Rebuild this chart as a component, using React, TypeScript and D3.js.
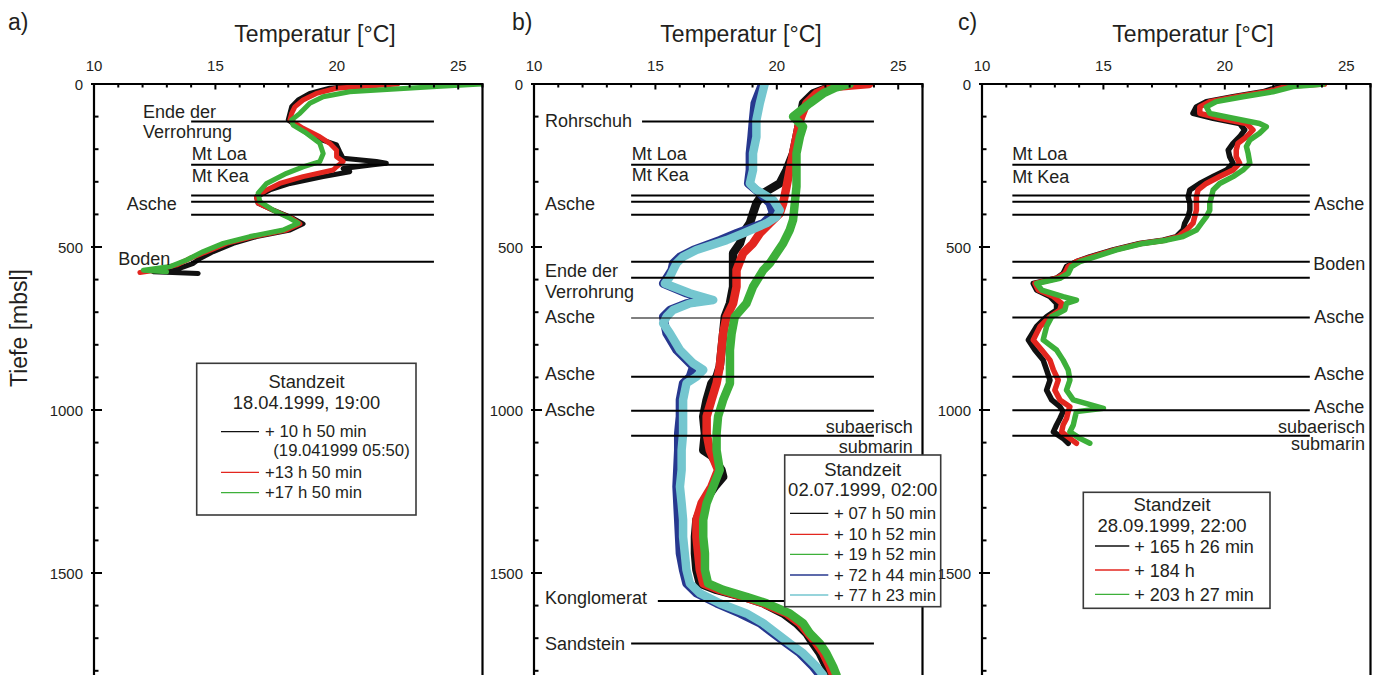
import React from 'react';
import * as d3 from 'd3';

type P = [number, number]; // [depth (m), temperature (°C)]

// ---------- Panel a (18.04.1999) ----------
const aBlack: P[] = [[0,21.9],[13,19.71],[29,18.89],[49,18.41],[70,18.14],[90,18.07],[110,18.0],[136,18.48],[162,19.02],[187,19.99],[208,20.12],[228,20.26],[238,21.63],[243,22.04],[248,21.49],[259,20.26],[269,20.53],[284,19.44],[305,18.07],[325,17.24],[346,16.69],[366,16.76],[387,17.38],[412,18.2],[429,18.61],[448,18.07],[468,16.69],[489,15.73],[514,14.91],[535,14.36],[550,14.09],[565,13.54],[576,12.44],[581,14.29]];
const aRed: P[] = [[0,22.5],[3,21.9],[13,19.99],[29,19.16],[49,18.61],[70,18.27],[90,18.14],[110,18.07],[136,18.61],[162,19.3],[182,19.71],[203,19.99],[223,19.99],[238,20.26],[254,19.99],[264,19.85],[284,18.61],[305,17.65],[325,17.11],[346,16.69],[366,16.76],[387,17.38],[412,18.14],[429,18.48],[448,17.93],[468,16.56],[489,15.46],[514,14.64],[535,13.95],[555,13.4],[571,12.58],[578,11.89]];
const aGreen: P[] = [[0,25.98],[8,24.12],[24,20.53],[39,19.44],[59,18.89],[90,18.48],[110,18.14],[126,18.2],[151,18.75],[182,19.3],[213,19.44],[238,19.3],[254,18.61],[274,17.93],[305,17.11],[335,16.76],[361,16.83],[387,17.38],[412,18.07],[427,18.41],[448,17.79],[468,16.42],[489,15.32],[514,14.5],[540,13.81],[560,13.13],[571,12.03],[576,12.99]];

// ---------- Panel b (02.07.1999) ----------
const bBlack: P[] = [[0,22.5],[29,21.49],[59,21.08],[110,20.95],[162,20.81],[213,20.67],[264,20.4],[305,20.12],[335,19.44],[366,19.16],[397,19.02],[427,18.89],[458,18.61],[489,18.48],[519,18.2],[571,18.2],[622,18.2],[673,18.07],[714,17.86],[765,17.79],[816,17.72],[867,17.65],[898,17.52],[918,17.31],[969,17.11],[1020,16.97],[1072,17.04],[1123,16.97],[1140,17.31],[1184,17.72],[1205,17.79],[1235,17.45],[1286,16.97],[1337,16.69],[1389,16.63],[1440,16.63],[1491,16.69],[1532,16.83],[1552,17.52],[1573,18.61],[1593,19.44],[1624,20.26],[1654,20.81],[1685,21.22],[1716,21.49],[1746,21.77],[1787,22.04],[1813,22.25]];
const bRed: P[] = [[0,23.8],[10,22.2],[29,21.63],[59,21.22],[110,20.95],[162,20.81],[213,20.67],[264,20.53],[315,20.4],[366,20.26],[397,20.12],[427,19.71],[458,19.3],[489,19.02],[519,18.61],[571,18.34],[622,18.34],[673,18.2],[714,17.93],[765,17.79],[816,17.72],[867,17.65],[918,17.52],[969,17.31],[1020,17.11],[1072,17.11],[1123,17.24],[1184,17.58],[1235,17.31],[1286,16.9],[1337,16.69],[1389,16.69],[1440,16.76],[1491,16.83],[1532,16.97],[1552,17.65],[1573,18.61],[1593,19.44],[1624,20.4],[1654,20.95],[1685,21.29],[1716,21.63],[1746,21.91],[1787,22.18],[1813,22.32]];
const bGreen: P[] = [[0,23.0],[10,22.46],[29,21.91],[59,21.36],[100,20.67],[131,21.08],[162,20.95],[213,20.81],[264,20.81],[315,20.81],[366,20.74],[417,20.67],[448,20.53],[489,20.26],[519,19.99],[550,19.71],[571,19.44],[622,19.02],[673,18.75],[714,18.27],[765,18.14],[816,18.07],[867,18.07],[918,18.07],[969,17.79],[1020,17.58],[1072,17.52],[1123,17.52],[1184,17.65],[1235,17.38],[1286,17.11],[1337,16.97],[1389,16.97],[1440,17.04],[1491,17.04],[1532,17.17],[1552,17.79],[1573,18.75],[1593,19.58],[1624,20.53],[1654,21.08],[1685,21.36],[1716,21.77],[1746,22.04],[1787,22.32],[1813,22.46]];
const bNavy: P[] = [[0,19.4],[59,19.09],[110,19.02],[162,18.96],[213,18.89],[264,18.89],[305,18.82],[335,19.3],[366,19.71],[397,19.85],[427,19.44],[458,18.34],[479,17.65],[509,16.56],[530,16.01],[550,15.73],[571,15.67],[612,15.32],[642,16.28],[663,17.11],[673,16.28],[693,15.6],[714,15.32],[765,15.46],[816,15.87],[867,16.56],[898,16.42],[918,16.14],[969,16.01],[1020,16.01],[1072,15.94],[1123,15.94],[1235,15.87],[1337,15.94],[1440,16.01],[1491,16.14],[1532,16.28],[1562,16.69],[1593,17.52],[1624,18.48],[1654,19.3],[1685,19.85],[1716,20.4],[1746,20.95],[1787,21.49],[1813,21.77]];
const bCyan: P[] = [[0,19.5],[59,19.3],[110,19.16],[162,19.16],[213,19.02],[264,19.02],[305,18.89],[325,19.16],[356,19.85],[387,20.12],[407,19.99],[427,19.58],[458,18.61],[479,17.93],[509,16.69],[530,16.14],[550,15.87],[571,15.73],[591,15.6],[612,15.39],[622,15.73],[642,16.42],[663,17.38],[673,16.42],[693,15.73],[714,15.46],[734,15.32],[765,15.6],[816,16.01],[857,16.56],[877,16.97],[898,16.69],[918,16.28],[969,16.14],[1020,16.14],[1072,16.14],[1123,16.08],[1184,16.08],[1235,16.01],[1286,16.08],[1337,16.14],[1389,16.14],[1440,16.21],[1491,16.28],[1532,16.42],[1562,16.83],[1593,17.65],[1624,18.75],[1654,19.44],[1685,19.99],[1716,20.53],[1746,21.08],[1787,21.63],[1813,21.91]];

// ---------- Panel c (28.09.1999) ----------
const cBlack: P[] = [[0,23.6],[8,22.26],[24,21.57],[39,20.34],[54,19.24],[70,18.83],[90,18.69],[105,19.52],[121,20.61],[141,20.82],[162,20.61],[182,20.34],[203,20.14],[223,20.2],[243,20.34],[264,20.07],[284,19.52],[305,18.97],[325,18.56],[346,18.49],[366,18.56],[387,18.56],[407,18.49],[427,18.35],[448,18.28],[468,18.01],[479,17.46],[489,16.5],[509,15.4],[530,14.44],[545,13.89],[560,13.48],[581,13.34],[596,13.07],[612,12.11],[632,12.25],[652,12.8],[673,13.07],[693,13.07],[714,12.66],[744,12.25],[785,11.91],[816,12.18],[847,12.52],[877,12.66],[908,12.8],[939,12.66],[969,12.87],[990,13.21],[1005,13.34],[1026,13.21],[1046,13.07],[1067,12.94],[1087,13.34],[1102,13.55]];
const cRed: P[] = [[0,24.1],[3,23.36],[8,22.53],[24,21.71],[39,20.47],[54,19.38],[70,18.97],[90,18.97],[105,19.79],[121,20.89],[141,21.16],[162,20.89],[182,20.54],[203,20.47],[223,20.47],[243,20.61],[264,20.34],[284,19.79],[305,19.24],[325,18.9],[346,18.83],[366,18.83],[387,18.83],[407,18.76],[427,18.69],[448,18.42],[468,18.08],[479,17.53],[489,16.57],[509,15.47],[530,14.51],[545,13.89],[560,13.55],[581,13.41],[596,13.07],[612,12.18],[632,12.32],[652,12.94],[673,13.28],[693,13.21],[714,12.8],[744,12.39],[785,12.11],[816,12.46],[847,12.8],[877,12.94],[908,13.14],[939,13.0],[969,13.21],[990,13.62],[1005,13.55],[1026,13.48],[1046,13.34],[1067,13.28],[1087,13.62],[1102,13.89]];
const cGreen: P[] = [[0,24.05],[3,23.63],[8,22.81],[24,21.98],[39,20.75],[54,19.65],[70,19.24],[90,19.38],[105,20.34],[121,21.43],[131,21.71],[151,21.43],[172,21.03],[192,20.89],[213,20.96],[243,21.03],[264,20.75],[284,20.34],[305,19.79],[325,19.52],[346,19.45],[366,19.38],[387,19.38],[407,19.24],[427,19.04],[448,18.83],[468,18.28],[479,17.6],[489,16.64],[509,15.54],[530,14.65],[545,14.03],[560,13.69],[581,13.55],[596,13.21],[612,12.25],[632,12.46],[652,13.34],[663,13.89],[673,13.48],[693,13.41],[714,12.87],[744,12.66],[785,12.52],[816,13.07],[847,13.34],[877,13.55],[908,13.62],[939,13.48],[969,13.76],[995,15.0],[1005,13.89],[1026,13.82],[1046,13.76],[1067,13.62],[1087,14.03],[1102,14.44]];

// ---------- axes ----------
const xTicks = [10, 15, 20, 25];
const yTicks = [0, 500, 1000, 1500];
const xTitle = 'Temperatur [°C]';
const yTitle = 'Tiefe [mbsl]';

// ---------- horizon lines: [depth, tStart, tEnd] ----------
const aHorizons: [number, number, number][] = [[115,14,24],[248,14,24],[342,14,24],[361,14,24],[401,14,24],[545,14,24]];
const bHorizons: [number, number, number][] = [[115,14.45,24],[248,14,24],[342,14,24],[361,14,24],[401,14,24],[545,14,24],[594,14,24],[898,14,24],[1002,14,24],[1079,14,24],[1586,15.1,24],[1716,14,24]];
const bThinHorizons: [number, number, number][] = [[718,14,24]];
const cHorizons: [number, number, number][] = [[248,11.25,23.5],[342,11.25,23.5],[361,11.25,23.5],[401,11.25,23.5],[545,11.25,23.5],[594,11.25,23.5],[716,11.25,23.5],[898,11.25,23.5],[1001,11.25,23.5],[1079,11.25,23.5]];

// ---------- legends ----------
const aLegendHead = ['Standzeit', '18.04.1999, 19:00'];
const aLegendItems = ['+ 10 h 50 min', '+13 h 50 min', '+17 h 50 min'];
const aLegendNote = '(19.041999 05:50)';
const bLegendHead = ['Standzeit', '02.07.1999, 02:00'];
const bLegendItems = ['+ 07 h 50 min', '+ 10 h 52 min', '+ 19 h 52 min', '+ 72 h 44 min', '+ 77 h 23 min'];
const cLegendHead = ['Standzeit', '28.09.1999, 22:00'];
const cLegendItems = ['+ 165 h 26 min', '+ 184 h', '+ 203 h 27 min'];

const BLACK = '#111111';
const RED = '#e3261f';
const GREEN = '#3db03a';
const NAVY = '#27388f';
const CYAN = '#74c6cf';

const FONT = '"Liberation Sans", Arial, Helvetica, sans-serif';
const TEXT = '#231f20';
const TOP = 84;
const PX_PER_M = 0.326;
const PLOT_W = 388.5;
const DMAX = 1860;

type Label = { t: string; x: number; y: number; end?: boolean };
type Legend = {
  box: [number, number, number, number];
  headX: number; headY: [number, number]; headSize: number;
  lineX: [number, number]; textX: number; rows: number[]; dy: number; size: number;
  items: string[]; colors: string[]; note?: { t: string; x: number; y: number };
};
type PanelCfg = {
  id: string; left: number; letter: string; letterX: number; titleX: number; sw: number;
  series: [P[], string][]; horizons: [number, number, number][]; thin?: [number, number, number][];
  labels: Label[]; legend: Legend; head: string[];
};

const panels: PanelCfg[] = [
  {
    id: 'a', left: 94, letter: 'a)', letterX: 8, titleX: 315, sw: 5,
    series: [[aBlack, BLACK], [aRed, RED], [aGreen, GREEN]],
    horizons: aHorizons,
    labels: [
      { t: 'Ende der', x: 143, y: 117.7 }, { t: 'Verrohrung', x: 143, y: 138.3 },
      { t: 'Mt Loa', x: 191.7, y: 160 }, { t: 'Mt Kea', x: 191.7, y: 181.7 },
      { t: 'Asche', x: 126.7, y: 210 }, { t: 'Boden', x: 118.3, y: 265 },
    ],
    head: aLegendHead,
    legend: {
      box: [196.7, 363.3, 416, 515], headX: 306.5, headY: [388, 408.5], headSize: 18.3,
      lineX: [221, 259], textX: 265, rows: [431.7, 472.3, 492.7], dy: 5.5, size: 16.7,
      items: aLegendItems, colors: [BLACK, RED, GREEN],
      note: { t: aLegendNote, x: 273.3, y: 456 },
    },
  },
  {
    id: 'b', left: 534, letter: 'b)', letterX: 512, titleX: 741, sw: 8.5,
    series: [[bBlack, BLACK], [bRed, RED], [bGreen, GREEN], [bNavy, NAVY], [bCyan, CYAN]],
    horizons: bHorizons, thin: bThinHorizons,
    labels: [
      { t: 'Rohrschuh', x: 545, y: 126.7 }, { t: 'Mt Loa', x: 631.7, y: 160 }, { t: 'Mt Kea', x: 631.7, y: 181 },
      { t: 'Asche', x: 545, y: 210 }, { t: 'Ende der', x: 545, y: 277 }, { t: 'Verrohrung', x: 545, y: 297.5 },
      { t: 'Asche', x: 545, y: 323 }, { t: 'Asche', x: 545, y: 380 }, { t: 'Asche', x: 545, y: 415.5 },
      { t: 'subaerisch', x: 912.7, y: 432.7, end: true }, { t: 'submarin', x: 912.7, y: 453, end: true },
      { t: 'Konglomerat', x: 545, y: 603.5 }, { t: 'Sandstein', x: 545, y: 650 },
    ],
    head: bLegendHead,
    legend: {
      box: [784.7, 455, 940.7, 606.7], headX: 862.7, headY: [476, 496.3], headSize: 18.5,
      lineX: [790, 828.3], textX: 834, rows: [513.3, 534.3, 554.3, 575, 595], dy: 5.7, size: 16.8,
      items: bLegendItems, colors: [BLACK, RED, GREEN, NAVY, CYAN],
    },
  },
  {
    id: 'c', left: 982, letter: 'c)', letterX: 958, titleX: 1193, sw: 5.5,
    series: [[cBlack, BLACK], [cRed, RED], [cGreen, GREEN]],
    horizons: cHorizons,
    labels: [
      { t: 'Mt Loa', x: 1012.3, y: 160 }, { t: 'Mt Kea', x: 1012.3, y: 182.5 },
      { t: 'Asche', x: 1314.3, y: 210 }, { t: 'Boden', x: 1313.3, y: 270 },
      { t: 'Asche', x: 1314.3, y: 323.3 }, { t: 'Asche', x: 1314.3, y: 380 }, { t: 'Asche', x: 1314.3, y: 412.7 },
      { t: 'subaerisch', x: 1365, y: 432.7, end: true }, { t: 'submarin', x: 1365, y: 450, end: true },
    ],
    head: cLegendHead,
    legend: {
      box: [1083.3, 492.3, 1270, 608.3], headX: 1172, headY: [510.5, 531.5], headSize: 18.5,
      lineX: [1095, 1129.3], textX: 1134.3, rows: [546, 570, 594.3], dy: 6.5, size: 18,
      items: cLegendItems, colors: [BLACK, RED, GREEN],
    },
  },
];

function Panel({ cfg }: { cfg: PanelCfg }) {
  const x = d3.scaleLinear().domain([10, 26]).range([cfg.left, cfg.left + PLOT_W]);
  const y = d3.scaleLinear().domain([0, DMAX]).range([TOP, TOP + DMAX * PX_PER_M]);
  const line = d3.line<P>().x((d) => x(d[1])).y((d) => y(d[0]));
  const right = x(26);
  const bottom = y(DMAX);
  const clipId = `clip-${cfg.id}`;
  const xMinor = d3.range(10, 27, 1).filter((v) => v % 5 !== 0);
  const yMinor = d3.range(0, DMAX, 100).filter((v) => v % 500 !== 0);
  const lg = cfg.legend;
  return (
    <g>
      <defs>
        <clipPath id={clipId}>
          <rect x={x(10)} y={TOP} width={right - x(10)} height={bottom - TOP} />
        </clipPath>
      </defs>
      <text x={cfg.letterX} y={30} fontSize={23} fill={TEXT}>{cfg.letter}</text>
      <text x={cfg.titleX} y={42} fontSize={23} textAnchor="middle" fill={TEXT}>{xTitle}</text>
      {xTicks.map((t) => (
        <text key={`xt${t}`} x={x(t)} y={71} fontSize={15} textAnchor="middle" fill={TEXT}>{t}</text>
      ))}
      {yTicks.map((t) => (
        <text key={`yt${t}`} x={x(10) - 11} y={y(t) + 5.5} fontSize={15} textAnchor="end" fill={TEXT}>{t}</text>
      ))}
      {/* data */}
      <g clipPath={`url(#${clipId})`}>
        {cfg.series.map(([data, color], i) => (
          <path key={i} d={line(data) || ''} fill="none" stroke={color} strokeWidth={cfg.sw}
            strokeLinejoin="round" strokeLinecap="round" />
        ))}
      </g>
      {/* horizons */}
      {cfg.horizons.map(([d, t0, t1], i) => (
        <line key={`h${i}`} x1={x(t0)} x2={x(t1)} y1={y(d)} y2={y(d)} stroke="#000" strokeWidth={2} />
      ))}
      {(cfg.thin || []).map(([d, t0, t1], i) => (
        <line key={`th${i}`} x1={x(t0)} x2={x(t1)} y1={y(d)} y2={y(d)} stroke="#000" strokeWidth={1.1} />
      ))}
      {cfg.labels.map((l, i) => (
        <text key={`l${i}`} x={l.x} y={l.y} fontSize={18} fill={TEXT} textAnchor={l.end ? 'end' : 'start'}>{l.t}</text>
      ))}
      {/* frame */}
      <line x1={x(10)} x2={right} y1={TOP} y2={TOP} stroke="#000" strokeWidth={2.2} />
      <line x1={x(10)} x2={x(10)} y1={TOP - 1} y2={bottom} stroke="#000" strokeWidth={2.2} />
      <line x1={right} x2={right} y1={TOP - 1} y2={bottom} stroke="#000" strokeWidth={2.2} />
      {xTicks.map((t) => (
        <line key={`xM${t}`} x1={x(t)} x2={x(t)} y1={TOP} y2={TOP + 5.5} stroke="#000" strokeWidth={2} />
      ))}
      {xMinor.map((t) => (
        <line key={`xm${t}`} x1={x(t)} x2={x(t)} y1={TOP} y2={TOP + 3.5} stroke="#000" strokeWidth={2} />
      ))}
      {yTicks.map((t) => (
        <line key={`yM${t}`} x1={x(10) - 3} x2={x(10) + 8} y1={y(t)} y2={y(t)} stroke="#000" strokeWidth={2} />
      ))}
      {yMinor.map((t) => (
        <line key={`ym${t}`} x1={x(10)} x2={x(10) + 4.5} y1={y(t)} y2={y(t)} stroke="#000" strokeWidth={2} />
      ))}
      {/* legend */}
      <rect x={lg.box[0]} y={lg.box[1]} width={lg.box[2] - lg.box[0]} height={lg.box[3] - lg.box[1]}
        fill="#fff" stroke="#3a3a3a" strokeWidth={1.6} />
      {cfg.head.map((h, i) => (
        <text key={`hd${i}`} x={lg.headX} y={lg.headY[i]} fontSize={lg.headSize} textAnchor="middle" fill={TEXT}>{h}</text>
      ))}
      {lg.items.map((it, i) => (
        <g key={`li${i}`}>
          <line x1={lg.lineX[0]} x2={lg.lineX[1]} y1={lg.rows[i]} y2={lg.rows[i]} stroke={lg.colors[i]} strokeWidth={1.3} />
          <text x={lg.textX} y={lg.rows[i] + lg.dy} fontSize={lg.size} fill={TEXT}>{it}</text>
        </g>
      ))}
      {lg.note && (
        <text x={lg.note.x} y={lg.note.y} fontSize={lg.size} fill={TEXT}>{lg.note.t}</text>
      )}
    </g>
  );
}

export default function App() {
  return (
    <svg width={1376} height={675} viewBox="0 0 1376 675"
      style={{ position: 'absolute', left: 0, top: 0, background: '#fff', fontFamily: FONT }}>
      <rect x={0} y={0} width={1376} height={675} fill="#fff" />
      {panels.map((p) => <Panel key={p.id} cfg={p} />)}
      <text transform="translate(27,328) rotate(-90)" fontSize={23} textAnchor="middle" fill={TEXT}>{yTitle}</text>
    </svg>
  );
}
